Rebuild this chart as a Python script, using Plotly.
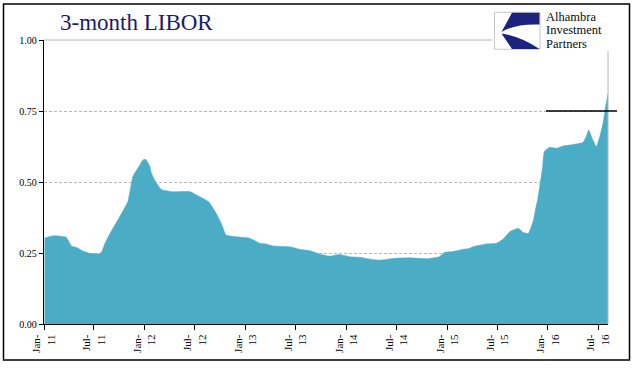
import plotly.graph_objects as go

dates = [
    "2011-01-03", "2011-02-04", "2011-03-22", "2011-04-10", "2011-04-28", "2011-05-22",
    "2011-06-16", "2011-07-16", "2011-07-28", "2011-08-10", "2011-08-28", "2011-10-01",
    "2011-11-01", "2011-11-19", "2011-12-07", "2011-12-25", "2012-01-04", "2012-01-20",
    "2012-01-24", "2012-02-06", "2012-03-01", "2012-04-13", "2012-06-13", "2012-07-19",
    "2012-08-19", "2012-09-13", "2012-10-07", "2012-10-22", "2012-11-28", "2013-01-16",
    "2013-02-22", "2013-03-16", "2013-04-10", "2013-06-10", "2013-07-16", "2013-08-22",
    "2013-09-28", "2013-11-01", "2013-12-07", "2014-01-13", "2014-02-19", "2014-03-13",
    "2014-05-01", "2014-06-19", "2014-08-19", "2014-10-19", "2014-12-04", "2014-12-22",
    "2015-01-22", "2015-02-28", "2015-03-22", "2015-04-04", "2015-05-22", "2015-06-28",
    "2015-07-22", "2015-08-16", "2015-09-16", "2015-10-04", "2015-10-22", "2015-11-10",
    "2015-11-19", "2015-11-25", "2015-12-13", "2015-12-19", "2016-01-07", "2016-02-01",
    "2016-02-25", "2016-03-19", "2016-04-13", "2016-05-07", "2016-05-19", "2016-05-28",
    "2016-06-10", "2016-06-25", "2016-07-07", "2016-07-19", "2016-07-28", "2016-08-06",
]
libor = [
    0.303, 0.311, 0.306, 0.275, 0.270, 0.257,
    0.249, 0.247, 0.252, 0.284, 0.319, 0.376,
    0.431, 0.519, 0.548, 0.577, 0.580, 0.555,
    0.535, 0.507, 0.474, 0.466, 0.466, 0.448,
    0.431, 0.395, 0.349, 0.313, 0.307, 0.302,
    0.284, 0.282, 0.275, 0.272, 0.263, 0.258,
    0.246, 0.239, 0.245, 0.237, 0.235, 0.231,
    0.225, 0.231, 0.233, 0.230, 0.237, 0.252,
    0.255, 0.263, 0.266, 0.272, 0.282, 0.284,
    0.298, 0.325, 0.337, 0.322, 0.319, 0.366,
    0.413, 0.437, 0.554, 0.607, 0.622, 0.619,
    0.627, 0.630, 0.634, 0.639, 0.660, 0.683,
    0.653, 0.624, 0.660, 0.707, 0.765, 0.812,
]

tick_dates = ["2011-01-01", "2011-07-01", "2012-01-01", "2012-07-01", "2013-01-01",
              "2013-07-01", "2014-01-01", "2014-07-01", "2015-01-01", "2015-07-01",
              "2016-01-01", "2016-07-01"]
tick_labels = ["Jan-<br>11", "Jul-<br>11", "Jan-<br>12", "Jul-<br>12", "Jan-<br>13",
               "Jul-<br>13", "Jan-<br>14", "Jul-<br>14", "Jan-<br>15", "Jul-<br>15",
               "Jan-<br>16", "Jul-<br>16"]
y_ticks = [0.0, 0.25, 0.50, 0.75, 1.00]
marker_level = 0.75
title_text = "3-month LIBOR"
logo_lines = ["Alhambra", "Investment", "Partners"]

W, H = 641, 375
L, R, T, B = 44, 608, 40, 324


def px(x):
    return (x - L) / (R - L)


def py(y):
    return (B - y) / (B - T)


fig = go.Figure()
fig.add_trace(go.Scatter(
    x=dates, y=libor, mode="lines", fill="tozeroy",
    line=dict(color="#4BACC6", width=0.5, shape="spline", smoothing=0.4),
    fillcolor="#4BACC6", hoverinfo="x+y", showlegend=False,
))

serif = "Liberation Serif, Times New Roman, serif"
shapes = []
# plot-area border (top and right), grey
shapes.append(dict(type="line", xref="paper", yref="paper", x0=0, x1=1, y0=1, y1=1,
                   line=dict(color="#b8b8b8", width=1), layer="above"))
shapes.append(dict(type="line", xref="paper", yref="paper", x0=1, x1=1, y0=0, y1=1,
                   line=dict(color="#b8b8b8", width=1), layer="above"))
# white area behind logo
shapes.append(dict(type="rect", xref="paper", yref="paper", x0=px(492), x1=px(626),
                   y0=py(51), y1=py(7), fillcolor="white", line=dict(width=0), layer="above"))
# logo box
shapes.append(dict(type="rect", xref="paper", yref="paper", x0=px(494.5), x1=px(540),
                   y0=py(49.3), y1=py(12.3), fillcolor="white",
                   line=dict(color="#c8c8c8", width=1), layer="above"))


def path(points):
    s = ""
    for cmd, pts in points:
        s += cmd + " " + " ".join(f"{px(a):.5f},{py(b):.5f}" for a, b in pts) + " "
    return s + "Z"


navy = "#1a237e"
shapes.append(dict(type="path", xref="paper", yref="paper",
                   path=path([("M", [(539.5, 12.8)]), ("L", [(512, 12.8)]),
                              ("L", [(501.5, 32)]), ("Q", [(516, 23.5), (539.5, 24.5)])]),
                   fillcolor=navy, line=dict(width=0), layer="above"))
shapes.append(dict(type="path", xref="paper", yref="paper",
                   path=path([("M", [(501.5, 33.5)]), ("Q", [(521, 36.5), (539.5, 49)]),
                              ("L", [(512, 49)])]),
                   fillcolor=navy, line=dict(width=0), layer="above"))
# black marker line at 0.75
shapes.append(dict(type="line", xref="paper", yref="y", x0=px(546), x1=px(617),
                   y0=marker_level, y1=marker_level,
                   line=dict(color="black", width=1.3), layer="above"))
# outer frame
shapes.append(dict(type="rect", xref="paper", yref="paper", x0=px(3.5), x1=px(629.5),
                   y0=py(360), y1=py(4), line=dict(color="black", width=1.5),
                   fillcolor="rgba(0,0,0,0)", layer="above"))

annotations = [dict(text=title_text, xref="paper", yref="paper", x=px(58), y=py(22),
                    xanchor="left", yanchor="middle", showarrow=False,
                    font=dict(family=serif, size=23, color="#1b1b6b"))]
for i, t in enumerate(logo_lines):
    annotations.append(dict(text=t, xref="paper", yref="paper", x=px(544), y=py(17 + 13.4 * i),
                            xanchor="left", yanchor="middle", showarrow=False,
                            font=dict(family=serif, size=12.5, color="#0a0a0a")))

fig.update_layout(
    width=W, height=H,
    margin=dict(l=L, r=W - R, t=T, b=H - B, pad=0),
    paper_bgcolor="white", plot_bgcolor="white",
    shapes=shapes, annotations=annotations,
    xaxis=dict(type="date", range=["2011-01-01", dates[-1]],
               tickvals=tick_dates, ticktext=tick_labels, tickangle=-90,
               tickfont=dict(family=serif, size=11, color="black"),
               ticks="outside", ticklen=5, tickcolor="black", tickwidth=1,
               showline=True, linecolor="black", linewidth=1.3,
               showgrid=False, zeroline=False, fixedrange=True),
    yaxis=dict(range=[0, 1], tickvals=y_ticks, tickformat=".2f",
               tickfont=dict(family=serif, size=10, color="black"),
               ticks="outside", ticklen=4, tickcolor="black", tickwidth=1,
               showline=True, linecolor="black", linewidth=1.3,
               showgrid=True, gridcolor="#b8b8b8", gridwidth=1, griddash="3px,2px",
               zeroline=False, fixedrange=True),
)

fig.write_html("out.html", config={"displayModeBar": False},
               post_script="document.body.style.margin='0';document.body.style.overflow='hidden';")
